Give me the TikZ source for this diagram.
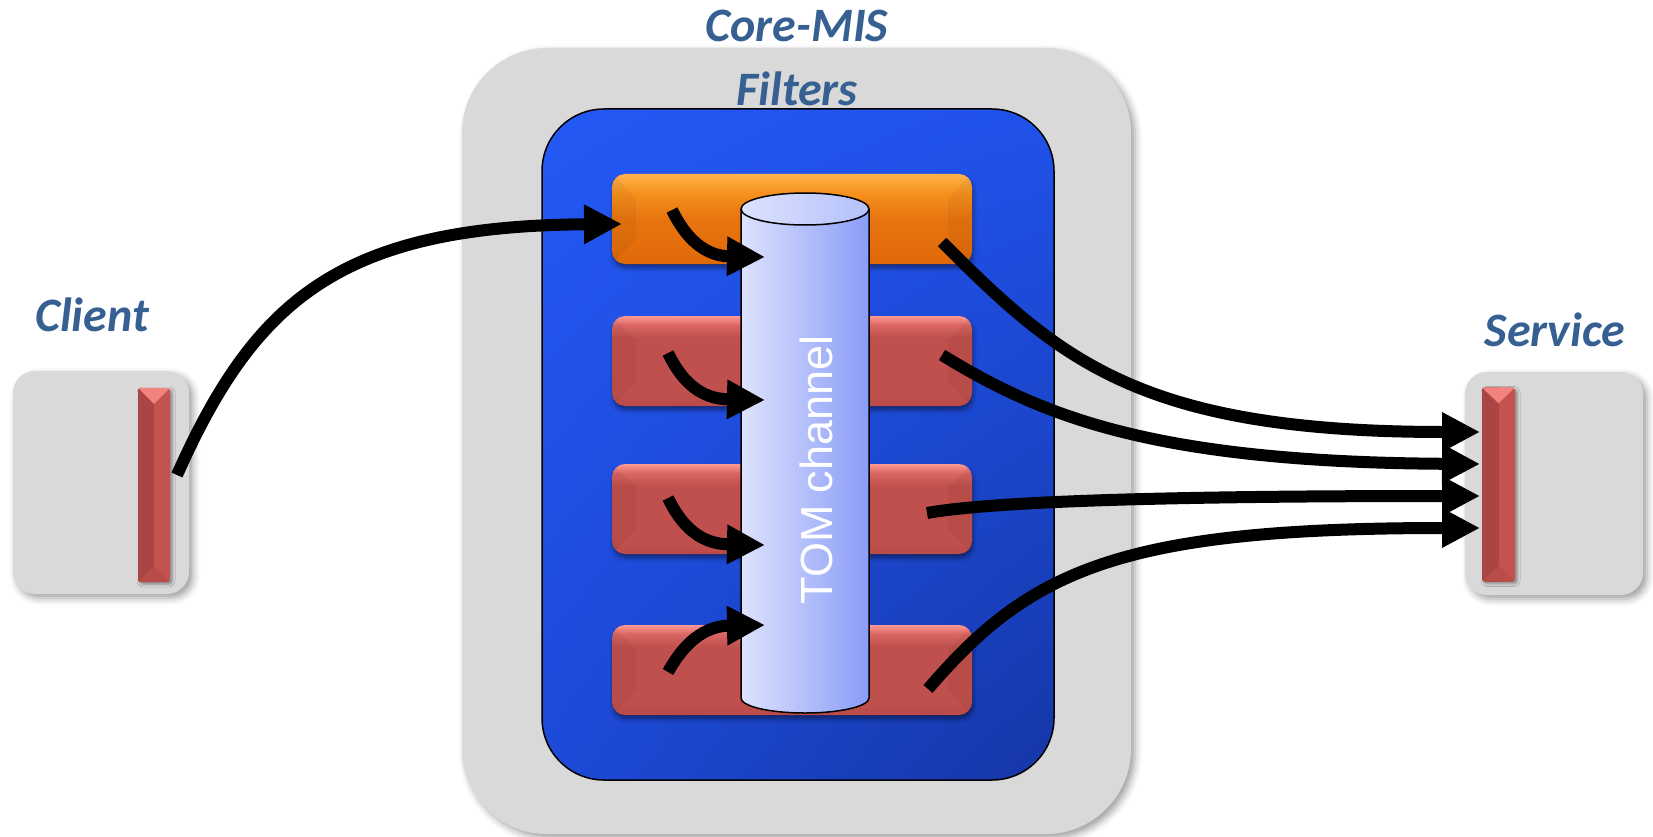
\documentclass[tikz,border=0pt]{standalone}
\usepackage{fontspec}
\newfontfamily\lblfont{Carlito}
\newfontfamily\chanfont{Liberation Sans}
\usetikzlibrary{arrows.meta,shadows.blur,shadings,calc}

\definecolor{panelgray}{HTML}{D9D9D9}
\definecolor{labelblue}{HTML}{376092}
\definecolor{blueUL}{HTML}{2459F5}
\definecolor{blueUR}{HTML}{2052EA}
\definecolor{blueLL}{HTML}{1D4AD8}
\definecolor{blueLR}{HTML}{1536A6}
\definecolor{orT}{HTML}{FFB24C}
\definecolor{orH}{HTML}{F5901C}
\definecolor{orM}{HTML}{E87410}
\definecolor{orB}{HTML}{DF6907}
\definecolor{rdT}{HTML}{FF9894}
\definecolor{rdH}{HTML}{D96662}
\definecolor{rdM}{HTML}{C0504D}
\definecolor{rdB}{HTML}{BA4B48}
\definecolor{cylL}{HTML}{DDE2FD}
\definecolor{cylR}{HTML}{8A9CF8}
\definecolor{cyltopR}{HTML}{B4C1FA}
\definecolor{barlight}{HTML}{C4524F}
\definecolor{bardark}{HTML}{A94643}
\definecolor{bartop}{HTML}{F3837F}
\definecolor{barbot}{HTML}{B84C49}

% bevelled fills for the filter boxes (path spans 25bp..75bp)
\pgfdeclareverticalshading{redbevel}{100bp}{color(0bp)=(rdB); color(25bp)=(rdB);
  color(32bp)=(rdM); color(63bp)=(rdM); color(70bp)=(rdH); color(75bp)=(rdT); color(100bp)=(rdT)}
\pgfdeclareverticalshading{orangebevel}{100bp}{color(0bp)=(orB); color(25bp)=(orB);
  color(50bp)=(orM); color(64bp)=(orH); color(75bp)=(orT); color(100bp)=(orT)}

\tikzset{
  panel/.style={fill=panelgray, rounded corners=#1, inner sep=0,
    blur shadow={shadow xshift=4pt, shadow yshift=-4pt, shadow blur radius=7pt, shadow opacity=38}},
  bluepanel/.style={draw=black, line width=1.5pt, rounded corners=62pt, inner sep=0,
    upper left=blueUL, upper right=blueUR, lower left=blueLL, lower right=blueLR},
  filterbox/.style={shade, rounded corners=13pt, inner sep=0, minimum width=360pt, minimum height=90pt,
    blur shadow={shadow xshift=1pt, shadow yshift=-4pt, shadow blur radius=4pt, shadow opacity=45}},
  redfilter/.style={filterbox, shading=redbevel},
  orangefilter/.style={filterbox, shading=orangebevel},
  portbar/.style={fill=barlight, rounded corners=3pt, inner sep=0, minimum width=32pt, minimum height=194pt,
    blur shadow={shadow xshift=2pt, shadow yshift=-2pt, shadow blur radius=3pt, shadow opacity=40}},
  lbl/.style={font=\lblfont\bfseries\itshape\fontsize{48}{56}\selectfont, text=labelblue, inner sep=0, anchor=base},
  chan/.style={font=\chanfont\fontsize{45}{52}\selectfont, text=white, inner sep=0, anchor=base, rotate=90},
  conn/.style={line width=12pt, -{Triangle[length=38pt, width=37pt]}},
}

% side bevels of a filter box
\newcommand\filterbevel[1]{%
  \begin{scope}
    \clip[rounded corners=13pt] (#1.north west) rectangle (#1.south east);
    \fill[black, opacity=.045] (#1.north west) -- ++(24,24) -- ($(#1.south west)+(24,-24)$) -- (#1.south west) -- cycle;
    \fill[black, opacity=.045] (#1.north east) -- ++(-24,24) -- ($(#1.south east)+(-24,-24)$) -- (#1.south east) -- cycle;
  \end{scope}}

% facets of an end-point bar
\newcommand\portbevel[1]{%
  \begin{scope}
    \clip[rounded corners=3pt] (#1.north west) rectangle (#1.south east);
    \fill[bardark] (#1.north west) rectangle (#1.south);
    \fill[bartop] (#1.north west) -- (#1.north east) -- ($(#1.north)+(0,16)$) -- cycle;
    \fill[barbot] (#1.south west) -- (#1.south east) -- ($(#1.south)+(0,-16)$) -- cycle;
  \end{scope}}

\begin{document}
\begin{tikzpicture}[x=1pt, y=-1pt]
  \useasboundingbox (0,0) rectangle (1653,837);

  % ---- containers ----
  \node[panel=85pt, minimum width=669pt, minimum height=786pt] (core) at (796.5,441) {};
  \node[panel=22pt, minimum width=176pt, minimum height=223pt] (client) at (101,482.5) {};
  \node[panel=22pt, minimum width=178pt, minimum height=223pt] (service) at (1554,483.5) {};

  \node[lbl] (coretitle) at (797,42) {Core-MIS};
  \node[lbl] (filtertitle) at (797,106) {Filters};
  \node[lbl] (clienttitle) at (92,331) {Client};
  \node[lbl] (servicetitle) at (1555,346) {Service};

  \node[bluepanel, minimum width=512pt, minimum height=671pt] (filters) at (798,444.5) {};

  % ---- filter stages ----
  \node[orangefilter] (f1) at (792,219) {};
  \node[redfilter] (f2) at (792,361) {};
  \node[redfilter] (f3) at (792,509) {};
  \node[redfilter] (f4) at (792,670) {};
  \filterbevel{f1}\filterbevel{f2}\filterbevel{f3}\filterbevel{f4}

  % ---- end-point bars ----
  \node[portbar] (cport) at (154,485) {};
  \node[portbar, minimum width=33pt] (sport) at (1498.5,484.5) {};
  \portbevel{cport}\portbevel{sport}

  % ---- TOM channel cylinder ----
  \fill[left color=cylL, right color=cylR]
    (741,209) -- (741,698) arc[start angle=180, end angle=0, x radius=64, y radius=15]
    -- (869,209) arc[start angle=0, end angle=180, x radius=64, y radius=16] -- cycle;
  \draw[line width=1.5pt]
    (741,209) -- (741,698) arc[start angle=180, end angle=0, x radius=64, y radius=15] -- (869,209);
  \filldraw[line width=1.5pt, left color=cylL, right color=cyltopR] (805,209) ellipse [x radius=64, y radius=16];
  \node[chan] (tomlabel) at (832,470) {TOM channel};

  % ---- connector ends ----
  \coordinate (a0s) at (177,475);  \coordinate (a0e) at (622,224);
  \coordinate (i1s) at (672,210);  \coordinate (i1e) at (765,257);
  \coordinate (i2s) at (668,353);  \coordinate (i2e) at (765,400);
  \coordinate (i3s) at (668,498);  \coordinate (i3e) at (765,545);
  \coordinate (i4s) at (668,672);  \coordinate (i4e) at (765,625);
  \coordinate (r1s) at (942,242);  \coordinate (r1e) at (1480,432);
  \coordinate (r2s) at (942,355);  \coordinate (r2e) at (1480,464);
  \coordinate (r3s) at (927,513);  \coordinate (r3e) at (1480,496);
  \coordinate (r4s) at (928,689);  \coordinate (r4e) at (1480,528);

  % ---- connectors ----
  \draw[conn] (a0s) .. controls (255,300) and (340,226) .. (a0e);

  \draw[conn] (i1s) .. controls (690,247) and (712,256) .. (i1e);
  \draw[conn] (i2s) .. controls (686,390) and (708,399) .. (i2e);
  \draw[conn] (i3s) .. controls (686,535) and (708,544) .. (i3e);
  \draw[conn] (i4s) .. controls (688,636) and (710,626) .. (i4e);

  \draw[conn] (r1s) .. controls (1060,360) and (1140,432) .. (r1e);
  \draw[conn] (r2s) .. controls (1040,415) and (1150,462) .. (r2e);
  \draw[conn] (r3s) .. controls (1000,500) and (1200,496) .. (r3e);
  \draw[conn] (r4s) .. controls (1030,570) and (1120,528) .. (r4e);
\end{tikzpicture}
\end{document}
